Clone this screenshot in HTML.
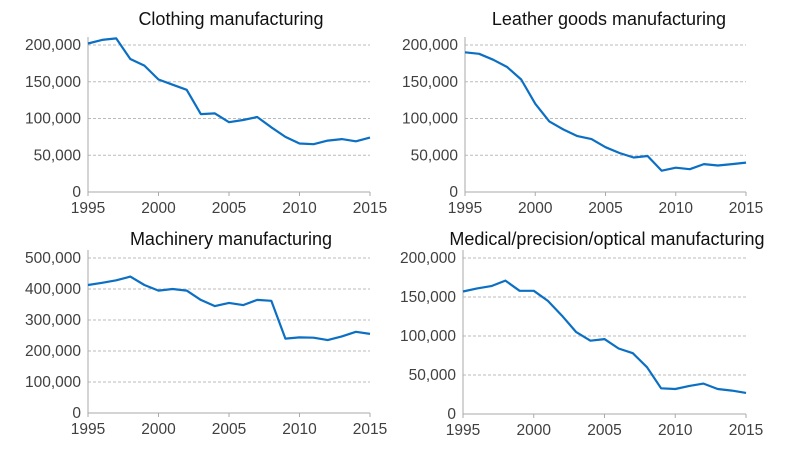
<!DOCTYPE html><html><head><style>body{margin:0;background:#fff}svg text{font-family:"Liberation Sans",sans-serif;fill:#404040}</style></head><body>
<svg width="809" height="455" viewBox="0 0 809 455" xmlns="http://www.w3.org/2000/svg">
<g id="c"></g>
</svg>
<script>
const ns="http://www.w3.org/2000/svg",g=document.getElementById('c');
function el(t,a,txt){const e=document.createElementNS(ns,t);for(const k in a)e.setAttribute(k,a[k]);if(txt!=null)e.textContent=txt;g.appendChild(e);return e;}
const charts=[
{x0:88,x1:370,y0:192,yt:45,max:200,step:50,title:"Clothing manufacturing",tx:231,ty:25,
d:[202,207,209,181,172,153,146,139,106,107,95,98,102,88,75,66,65,70,72,69,74]},
{x0:465,x1:746,y0:192,yt:45,max:200,step:50,title:"Leather goods manufacturing",tx:609,ty:25,
d:[190,188,180,170,153,120,96,85,76,72,61,53,47,49,29,33,31,38,36,38,40]},
{x0:88,x1:370,y0:413,yt:258,max:500,step:100,title:"Machinery manufacturing",tx:231,ty:245,
d:[413,420,428,440,413,395,400,395,365,345,355,348,365,362,240,244,243,235,247,262,255]},
{x0:463,x1:746,y0:414,yt:258,max:200,step:50,title:"Medical/precision/optical manufacturing",tx:607,ty:245,
d:[157,161,164,171,158,158,145,126,105,94,96,84,78,60,33,32,36,39,32,30,27]}];
for(const c of charts){
 el('text',{x:c.tx,y:c.ty,'font-size':18,'text-anchor':'middle',style:'fill:#111'},c.title);
 for(let v=0;v<=c.max;v+=c.step){const y=c.y0-(c.y0-c.yt)*v/c.max;
  if(v>0)el('line',{x1:c.x0,x2:c.x1,y1:y,y2:y,stroke:'#bbb','stroke-dasharray':'3,2','stroke-width':1});
  el('text',{x:c.x0-7,y:y+5,'font-size':15.5,'text-anchor':'end'},v==0?'0':(v*1000).toLocaleString('en-US'));}
 el('line',{x1:c.x0,x2:c.x0,y1:c.yt-8,y2:c.y0,stroke:'#aaa'});
 el('line',{x1:c.x0,x2:c.x1,y1:c.y0,y2:c.y0,stroke:'#aaa'});
 for(let i=0;i<=4;i++){const x=c.x0+(c.x1-c.x0)*i/4;el('line',{x1:x,x2:x,y1:c.y0,y2:c.y0+4,stroke:'#aaa'});
  el('text',{x:x,y:c.y0+21,'font-size':15.5,'text-anchor':'middle'},1995+5*i);}
 const pts=c.d.map((v,i)=>(c.x0+(c.x1-c.x0)*i/20).toFixed(1)+','+(c.y0-(c.y0-c.yt)*v/c.max).toFixed(1)).join(' ');
 el('polyline',{points:pts,fill:'none',stroke:'#0b6fc4','stroke-width':2.2,'stroke-linejoin':'round'});
}
</script>
</body></html>
